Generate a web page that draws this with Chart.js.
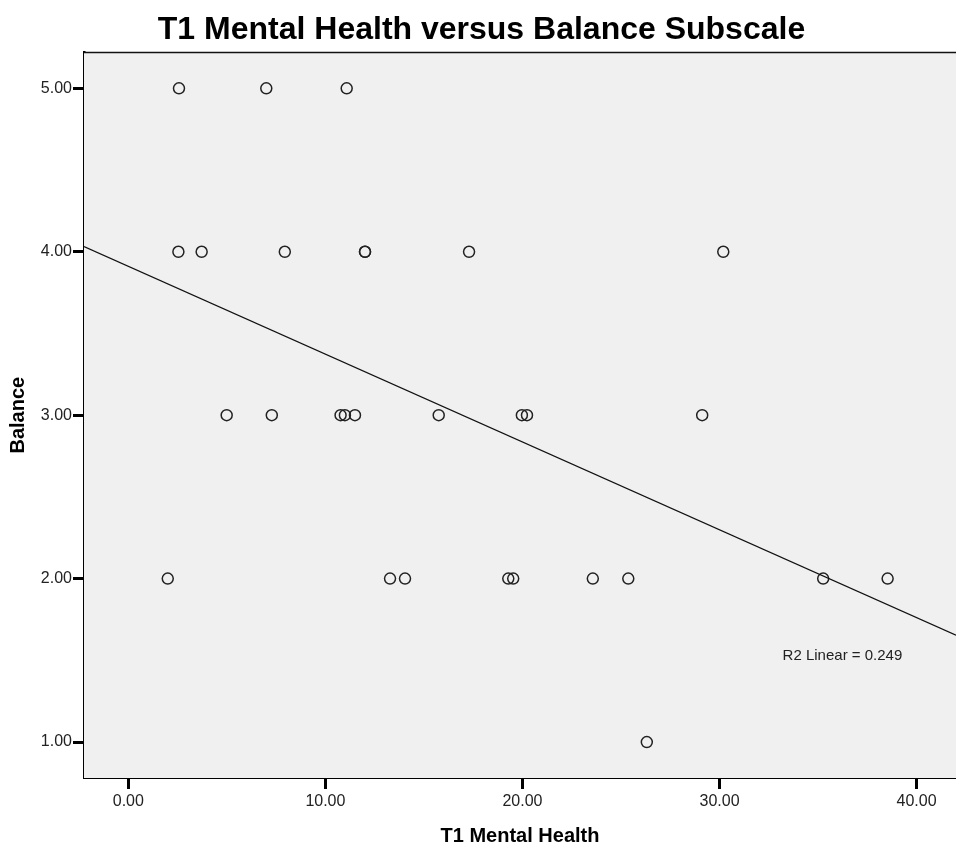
<!DOCTYPE html>
<html>
<head>
<meta charset="utf-8">
<script src="https://cdn.jsdelivr.net/npm/chart.js@4/dist/chart.umd.min.js"></script>
<style>
    html, body { margin: 0; padding: 0; overflow: hidden; background: #fff; }
    #wrap { width: 956px; height: 850px; overflow: hidden; }
    #inner { position: relative; width: 963px; height: 850px; }
</style>
</head>
<body>
<div id="wrap"><div id="inner"><canvas id="scatter"></canvas></div></div>
<script>
// T1 Mental Health (x) and Balance (y)
var mentalHealth = [
    2.57, 7.00, 11.08,
    2.54, 3.72, 7.94, 12.01, 12.01, 17.29, 30.19,
    4.99, 7.28, 10.77, 10.99, 11.50, 15.75, 19.97, 20.23, 29.12,
    2.00, 13.28, 14.04, 19.28, 19.53, 23.57, 25.37, 35.26, 38.53,
    26.31
];
var balance = [
    5, 5, 5,
    4, 4, 4, 4, 4, 4, 4,
    3, 3, 3, 3, 3, 3, 3, 3, 3,
    2, 2, 2, 2, 2, 2, 2, 2, 2,
    1
];
var xTicks = [0, 10, 20, 30, 40];
var yTicks = [1, 2, 3, 4, 5];
var xRange = [-2.25, 42];
var yRange = [0.78, 5.22];
var fitLabelAt = [33.2, 1.53];

document.addEventListener('DOMContentLoaded', function () {
    var FONT = "'Liberation Sans', Arial, sans-serif";

    // least squares fit of balance on mental health
    var n = mentalHealth.length;
    var mx = 0, my = 0;
    for (var i = 0; i < n; i++) { mx += mentalHealth[i]; my += balance[i]; }
    mx /= n; my /= n;
    var sxy = 0, sxx = 0, syy = 0;
    for (var j = 0; j < n; j++) {
        var dx = mentalHealth[j] - mx, dy = balance[j] - my;
        sxy += dx * dy; sxx += dx * dx; syy += dy * dy;
    }
    var slope = sxy / sxx;
    var intercept = my - slope * mx;
    var r2 = (sxy * sxy) / (sxx * syy);

    var points = mentalHealth.map(function (x, k) { return { x: x, y: balance[k] }; });
    var fitLine = xRange.map(function (x) { return { x: x, y: intercept + slope * x }; });

    var plotFrame = {
        id: 'plotFrame',
        beforeDatasetsDraw: function (chart) {
            var a = chart.chartArea, ctx = chart.ctx;
            ctx.save();
            ctx.fillStyle = '#f0f0f0';
            ctx.fillRect(a.left, a.top, a.right - a.left, a.bottom - a.top);
            ctx.strokeStyle = '#111';
            ctx.lineWidth = 1.5;
            ctx.beginPath();
            ctx.moveTo(a.left, a.top);
            ctx.lineTo(a.right, a.top);
            ctx.stroke();
            ctx.restore();
        },
        afterDatasetsDraw: function (chart) {
            var ctx = chart.ctx;
            var px = chart.scales.x.getPixelForValue(fitLabelAt[0]);
            var py = chart.scales.y.getPixelForValue(fitLabelAt[1]);
            ctx.save();
            ctx.font = '15px ' + FONT;
            ctx.fillStyle = '#222';
            ctx.textAlign = 'left';
            ctx.textBaseline = 'middle';
            ctx.fillText('R2 Linear = ' + r2.toFixed(3), px, py);
            ctx.restore();
        }
    };

    var tickFont = { family: FONT, size: 16 };
    var titleFont = { family: FONT, size: 20, weight: 'bold' };

    new Chart(document.getElementById('scatter'), {
        type: 'scatter',
        data: {
            datasets: [{
                data: points,
                pointStyle: 'circle',
                pointRadius: 5.5,
                pointBorderWidth: 1.5,
                pointBorderColor: '#222',
                pointBackgroundColor: 'rgba(0,0,0,0)',
                order: 2
            }, {
                type: 'line',
                data: fitLine,
                borderColor: '#111',
                borderWidth: 1.2,
                pointRadius: 0,
                fill: false,
                order: 1
            }]
        },
        options: {
            responsive: true,
            maintainAspectRatio: false,
            animation: false,
            layout: { padding: 0 },
            plugins: {
                legend: { display: false },
                tooltip: { enabled: false },
                title: {
                    display: true,
                    text: 'T1 Mental Health versus Balance Subscale',
                    color: '#000',
                    font: { family: FONT, size: 32, weight: 'bold' },
                    padding: { top: 11, bottom: 3 }
                }
            },
            scales: {
                x: {
                    type: 'linear',
                    min: xRange[0],
                    max: xRange[1],
                    afterBuildTicks: function (s) { s.ticks = xTicks.map(function (v) { return { value: v }; }); },
                    afterFit: function (s) { s.height = 72; },
                    ticks: {
                        color: '#222',
                        font: tickFont,
                        padding: 3,
                        callback: function (v) { return Number(v).toFixed(2); }
                    },
                    grid: { drawOnChartArea: false, tickLength: 11, tickWidth: 3, tickColor: '#000' },
                    border: { color: '#000', width: 2 },
                    title: { display: true, text: 'T1 Mental Health', color: '#000', font: titleFont, padding: { top: 4, bottom: 2 } }
                },
                y: {
                    type: 'linear',
                    min: yRange[0],
                    max: yRange[1],
                    afterBuildTicks: function (s) { s.ticks = yTicks.map(function (v) { return { value: v }; }); },
                    afterFit: function (s) { s.width = 84; },
                    ticks: {
                        color: '#222',
                        font: tickFont,
                        padding: 1,
                        callback: function (v) { return Number(v).toFixed(2); }
                    },
                    grid: { drawOnChartArea: false, tickLength: 11, tickWidth: 3, tickColor: '#000' },
                    border: { color: '#000', width: 2.5 },
                    title: { display: true, text: 'Balance', color: '#000', font: titleFont, padding: { top: 6, bottom: 4 } }
                }
            }
        },
        plugins: [plotFrame]
    });
});
</script>
</body>
</html>
